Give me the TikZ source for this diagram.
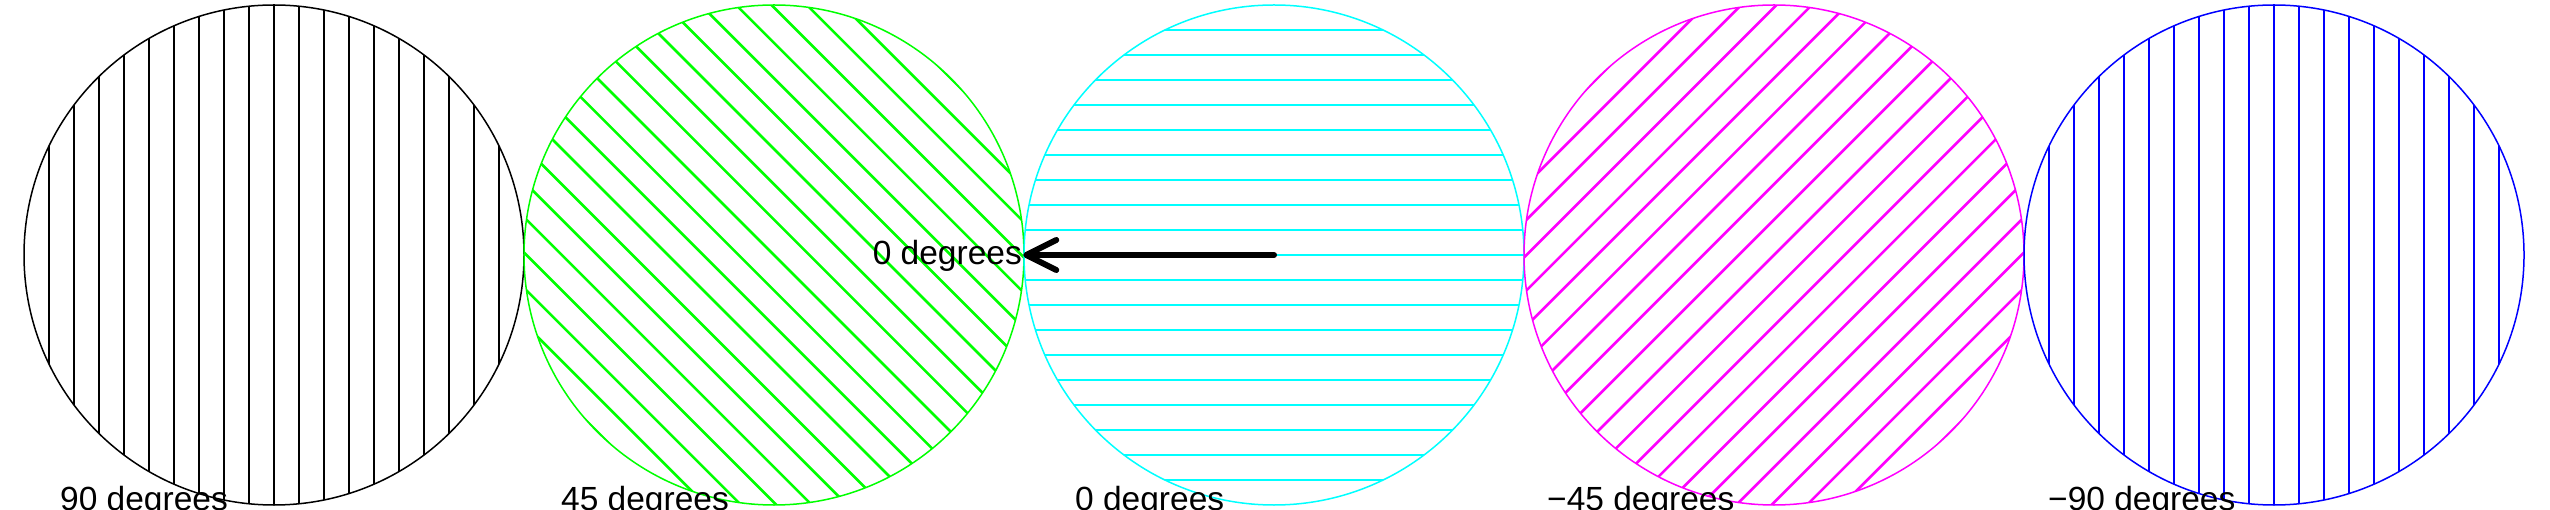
\documentclass[tikz,border=0pt]{standalone}
\usepackage{fontspec}
\setmainfont{Liberation Sans}
\usetikzlibrary{arrows.meta}
\definecolor{hgreen}{RGB}{0,255,0}
\definecolor{hcyan}{RGB}{0,255,255}
\definecolor{hmagenta}{RGB}{255,0,255}
\definecolor{hblue}{RGB}{0,0,255}
\begin{document}
\begin{tikzpicture}[x=1pt,y=-1pt,
  ring/.style={circle,minimum size=500pt,inner sep=0pt,line width=1.5pt},
  hatch/.style={line width=2.6pt},
  lbl/.style={inner sep=0pt,font=\fontsize{33.5}{40}\selectfont},
  bigarrow/.style={line width=6pt,line cap=round,-{Straight Barb[length=30pt,width=30pt,round]}}]
\useasboundingbox (0,0) rectangle (2550,510);
% hatching
\begin{scope}
  \clip (274,255) circle[radius=250];
  \foreach \k in {-9,...,9} \draw[hatch,black] ({274+25*\k},0) -- ({274+25*\k},510);
\end{scope}
\begin{scope}
  \clip (774,255) circle[radius=250];
  \foreach \k in {-10,...,10} \draw[hatch,hgreen] ({774+17.678*\k-260},{255-17.678*\k-260}) -- ({774+17.678*\k+260},{255-17.678*\k+260});
\end{scope}
\begin{scope}
  \clip (1274,255) circle[radius=250];
  \foreach \k in {-9,...,9} \draw[hatch,hcyan] (1000,{255+25*\k}) -- (1550,{255+25*\k});
\end{scope}
\begin{scope}
  \clip (1774,255) circle[radius=250];
  \foreach \k in {-10,...,10} \draw[hatch,hmagenta] ({1774+17.678*\k-260},{255+17.678*\k+260}) -- ({1774+17.678*\k+260},{255+17.678*\k-260});
\end{scope}
\begin{scope}
  \clip (2274,255) circle[radius=250];
  \foreach \k in {-9,...,9} \draw[hatch,hblue] ({2274+25*\k},0) -- ({2274+25*\k},510);
\end{scope}
% outlines
\node[ring,draw=black]    (c1) at (274,255) {};
\node[ring,draw=hgreen]   (c2) at (774,255) {};
\node[ring,draw=hcyan]    (c3) at (1274,255) {};
\node[ring,draw=hmagenta] (c4) at (1774,255) {};
\node[ring,draw=hblue]    (c5) at (2274,255) {};
% arrow
\draw[bigarrow] (c3.center) -- (c3.west);
\node[lbl,anchor=base east] (a0) at (1022,265) {0 degrees};
% labels
\node[lbl,anchor=base west] (l1) at (60,510) {90 degrees};
\node[lbl,anchor=base west] (l2) at (561,510) {45 degrees};
\node[lbl,anchor=base west] (l3) at (1075,510) {0 degrees};
\node[lbl,anchor=base west] (l4) at (1547,510) {−45 degrees};
\node[lbl,anchor=base west] (l5) at (2048,510) {−90 degrees};
\end{tikzpicture}
\end{document}
